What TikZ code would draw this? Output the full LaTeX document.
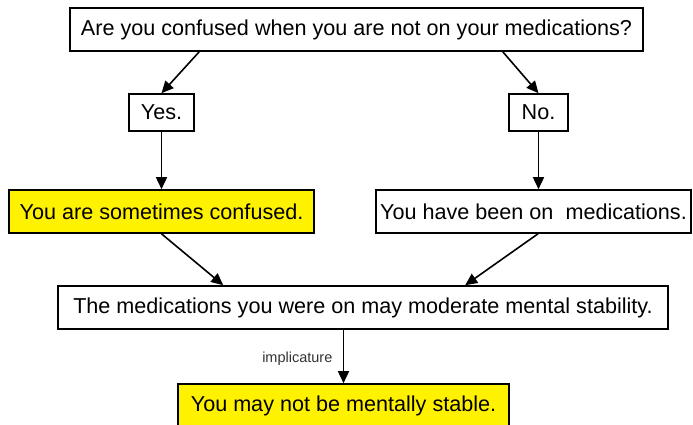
\documentclass[tikz,border=0pt]{standalone}
\usepackage{fontspec}
\setmainfont{Liberation Sans}
\usepackage{xcolor}
\usepackage{tikz}
\usetikzlibrary{arrows.meta, positioning}

\begin{document}
\begin{tikzpicture}[
x=1pt, y=-1pt,
every node/.style = {font=\fontsize{21.6}{25}\selectfont},
box/.style = {draw, line width=1.6pt, inner sep=0pt,
              minimum height=43pt},
hlbox/.style = {box, fill=yellow},
arr/.style = {draw, line width=1.6pt,
              -{Triangle[length=12pt, width=11pt]}},
                        ]
\useasboundingbox (0,0) rectangle (693,425);
\node (q)   [box, minimum width=573pt] at (356.5,29.5)
            {Are you confused when you are not on your medications?};
\node (yes) [box, minimum width=65pt, minimum height=37pt] at (161.5,112.5) {Yes.};
\node (no)  [box, minimum width=59pt, minimum height=37pt] at (538.5,112.5) {No.};
\node (conf) [hlbox, minimum width=305pt] at (161.5,211.5)
            {You are sometimes confused.};
\node (meds) [box, minimum width=315pt] at (533.5,211.5)
            {You have been on\ \ medications.};
\node (mod)  [box, minimum width=610pt] at (363,307.5)
            {The medications you were on may moderate mental stability.};
\node (stab) [hlbox, minimum width=331pt] at (343.5,405.5)
            {You may not be mentally stable.};
% question to answers
\draw[arr] ([xshift=130pt]q.south west) -- (yes.north);
\draw[arr] ([xshift=-141pt]q.south east) -- (no.north);
\draw[arr] (yes) -- (conf);
\draw[arr] (no.south) -- (no.south |- meds.north);
% to the premise
\draw[arr] (conf.south) -- ([xshift=166pt]mod.north west);
\draw[arr] ([xshift=4.5pt]meds.south) -- ([xshift=408pt]mod.north west);
\draw[arr] (stab.north |- mod.south) -- node[left=7pt, pos=0.55,
      font=\fontsize{14.5}{17}\selectfont, text=black!80] {implicature} (stab.north);
\end{tikzpicture}
\end{document}
